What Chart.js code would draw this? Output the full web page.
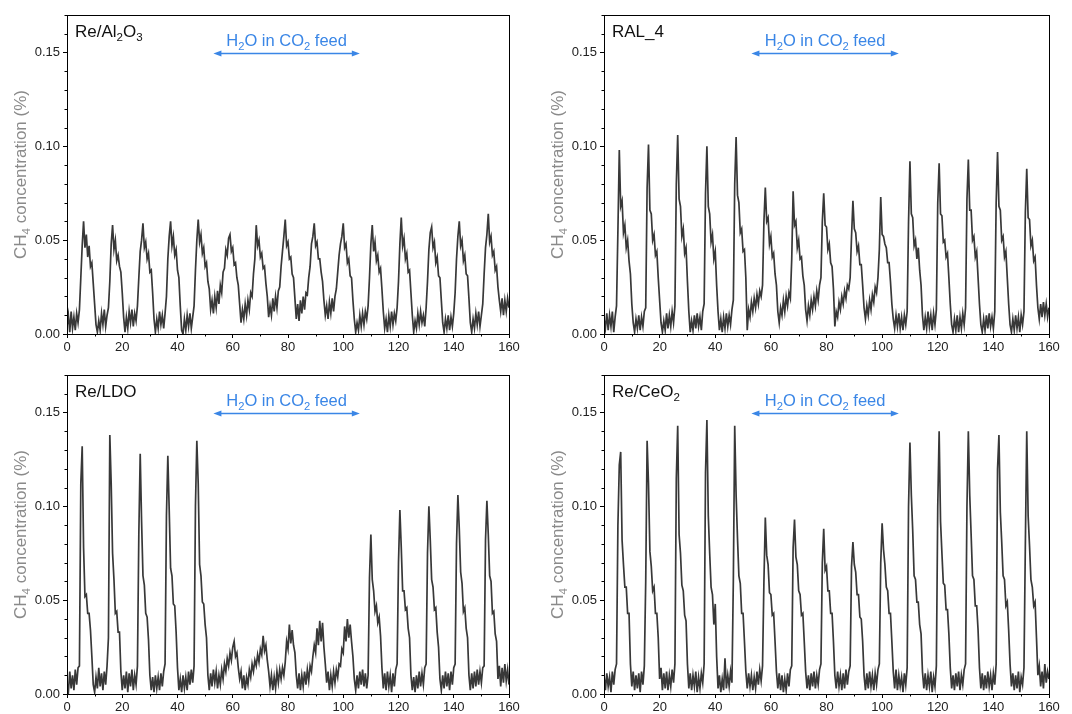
<!DOCTYPE html>
<html><head><meta charset="utf-8">
<script src="https://cdn.jsdelivr.net/npm/chart.js@4.4.1/dist/chart.umd.min.js"></script>
<style>
html,body{margin:0;padding:0;background:#fff;overflow:hidden;width:1072px;height:714px;}
canvas{position:absolute;}
</style></head><body>
<canvas id="c1" width="536" height="357" style="left:0;top:0"></canvas>
<canvas id="c2" width="536" height="357" style="left:536px;top:0"></canvas>
<canvas id="c3" width="536" height="354" style="left:0;top:360px"></canvas>
<canvas id="c4" width="536" height="354" style="left:536px;top:360px"></canvas>
<script>
// time axis: samples every 0.5 min from 0 to 160
const timeStep = 0.5;
const xTicks = [0,20,40,60,80,100,120,140,160];
const yTicks = [0.00,0.05,0.10,0.15];
const panelNames = [
  [['Re/Al',0],['2',1],['O',0],['3',1]],
  [['RAL_4',0]],
  [['Re/LDO',0]],
  [['Re/CeO',0],['2',1]]
];
const feedLabel = [['H',0],['2',1],['O in CO',0],['2',1],[' feed',0]];
const feedRange = [53, 106];
const yTitle = [['CH',0],['4',1],[' concentration (%)',0]];

// CH4 concentration (%), one value per 0.5 min
const reAl2O3 = [
.004,.010,.001,.012,.003,.009,.002,.011,.006,.013,
.030,.047,.060,.046,.053,.041,.047,.036,.038,.027,
.016,.005,.001,.007,.002,.011,.005,.013,.004,.010,
.014,.028,.048,.058,.045,.050,.039,.042,.036,.033,
.022,.009,.001,.009,.003,.012,.006,.013,.004,.011,
.007,.015,.030,.044,.050,.059,.046,.049,.040,.043,
.033,.034,.022,.008,.001,.008,.003,.012,.005,.010,
.003,.011,.020,.040,.052,.060,.047,.052,.042,.045,
.034,.030,.015,.002,.000,.008,.002,.010,.004,.011,
.003,.009,.015,.034,.050,.061,.049,.053,.043,.046,
.036,.038,.028,.024,.013,.018,.011,.020,.014,.023,
.016,.026,.022,.033,.035,.045,.042,.051,.053,.044,
.046,.037,.038,.030,.026,.016,.006,.013,.008,.016,
.010,.018,.013,.022,.020,.032,.040,.058,.047,.050,
.041,.043,.035,.036,.027,.020,.009,.015,.010,.019,
.012,.020,.014,.023,.025,.036,.044,.052,.061,.047,
.049,.040,.041,.032,.030,.019,.008,.016,.007,.018,
.011,.020,.013,.022,.021,.030,.036,.048,.052,.059,
.047,.049,.040,.040,.033,.028,.018,.010,.015,.008,
.017,.011,.019,.012,.020,.024,.033,.042,.048,.052,
.059,.046,.048,.038,.040,.031,.030,.018,.008,.001,
.006,.002,.010,.004,.011,.005,.012,.008,.015,.030,
.048,.058,.044,.049,.039,.042,.033,.035,.024,.012,
.003,.008,.001,.010,.004,.012,.005,.011,.007,.014,
.028,.048,.062,.047,.051,.040,.043,.033,.034,.022,
.010,.001,.007,.003,.011,.005,.012,.006,.010,.004,
.014,.028,.045,.054,.057,.046,.049,.038,.041,.031,
.030,.018,.006,.001,.008,.003,.010,.002,.009,.004,
.011,.022,.040,.052,.060,.047,.050,.039,.042,.032,
.031,.019,.006,.001,.008,.003,.011,.005,.012,.004,
.010,.016,.032,.046,.053,.064,.049,.052,.042,.044,
.034,.036,.025,.018,.012,.019,.010,.018,.012,.019,
.014];
const ral4 = [
.008,.003,.011,.002,.010,.004,.012,.001,.009,.015,
.055,.098,.068,.071,.054,.058,.046,.050,.039,.032,
.016,.006,.001,.008,.003,.010,.002,.009,.004,.012,
.014,.078,.101,.066,.064,.050,.053,.042,.044,.030,
.018,.006,.001,.007,.002,.011,.003,.010,.004,.012,
.006,.015,.080,.106,.072,.068,.052,.056,.043,.046,
.028,.012,.001,.007,.002,.010,.003,.011,.004,.009,
.002,.012,.016,.075,.100,.068,.064,.049,.053,.040,
.044,.026,.012,.002,.008,.001,.009,.003,.011,.004,
.010,.005,.013,.018,.080,.105,.074,.070,.054,.056,
.044,.045,.030,.002,.013,.009,.017,.012,.019,.014,
.021,.016,.023,.020,.026,.060,.078,.060,.062,.048,
.052,.041,.043,.032,.026,.012,.006,.014,.010,.018,
.012,.020,.015,.022,.019,.040,.076,.058,.060,.046,
.050,.040,.041,.031,.026,.013,.007,.015,.010,.018,
.013,.020,.015,.023,.018,.026,.030,.060,.075,.058,
.057,.045,.048,.038,.036,.024,.004,.012,.009,.017,
.013,.020,.016,.023,.019,.026,.024,.030,.052,.071,
.056,.054,.044,.047,.037,.037,.026,.014,.008,.015,
.010,.018,.013,.021,.017,.025,.022,.030,.045,.073,
.053,.052,.048,.046,.038,.038,.028,.016,.008,.003,
.010,.004,.011,.003,.009,.002,.010,.005,.012,.060,
.092,.064,.062,.047,.050,.040,.046,.034,.026,.010,
.002,.009,.003,.012,.004,.010,.002,.011,.005,.013,
.070,.091,.064,.063,.049,.050,.041,.043,.030,.016,
.005,.001,.008,.002,.010,.001,.009,.003,.011,.005,
.014,.072,.093,.066,.066,.050,.052,.041,.044,.030,
.016,.005,.001,.008,.002,.010,.003,.011,.004,.009,
.003,.012,.070,.097,.068,.066,.050,.052,.041,.044,
.030,.016,.005,.001,.008,.002,.010,.003,.009,.001,
.010,.005,.012,.065,.088,.062,.061,.047,.050,.039,
.041,.026,.014,.008,.016,.009,.017,.010,.016,.009,
.014];
const reLDO = [
.006,.001,.012,.003,.010,.002,.013,.005,.014,.015,
.112,.132,.078,.052,.053,.043,.043,.034,.020,.005,
.001,.009,.003,.014,.004,.011,.002,.012,.005,.015,
.030,.138,.112,.075,.061,.043,.044,.033,.033,.012,
.002,.010,.003,.012,.001,.011,.004,.013,.002,.010,
.005,.015,.085,.128,.092,.063,.058,.043,.041,.029,
.010,.002,.009,.001,.010,.003,.009,.002,.011,.004,
.012,.016,.095,.127,.098,.067,.063,.048,.047,.033,
.014,.002,.008,.001,.010,.003,.009,.002,.012,.005,
.013,.006,.015,.100,.135,.112,.069,.063,.049,.048,
.037,.030,.010,.002,.011,.004,.013,.006,.012,.003,
.010,.005,.013,.008,.016,.012,.019,.015,.022,.018,
.025,.028,.020,.022,.014,.008,.012,.003,.010,.002,
.009,.005,.013,.009,.016,.012,.018,.015,.021,.017,
.024,.021,.031,.023,.026,.018,.012,.004,.010,.002,
.009,.003,.012,.006,.013,.008,.014,.010,.017,.028,
.024,.037,.027,.034,.026,.022,.010,.003,.011,.002,
.010,.004,.012,.005,.013,.007,.015,.012,.020,.026,
.022,.035,.026,.039,.028,.038,.025,.016,.006,.012,
.002,.010,.004,.012,.006,.013,.009,.016,.015,.024,
.022,.036,.028,.040,.030,.037,.028,.020,.008,.002,
.010,.003,.012,.005,.013,.004,.011,.003,.010,.062,
.085,.061,.055,.044,.047,.038,.041,.031,.014,.003,
.011,.002,.012,.004,.010,.001,.011,.004,.013,.016,
.070,.098,.078,.055,.055,.045,.046,.035,.030,.010,
.002,.009,.001,.010,.003,.012,.004,.011,.005,.014,
.016,.075,.100,.082,.061,.057,.045,.046,.033,.025,
.008,.002,.010,.003,.012,.004,.011,.002,.012,.005,
.014,.016,.080,.106,.088,.065,.059,.044,.046,.035,
.030,.010,.002,.011,.003,.012,.004,.013,.005,.012,
.006,.014,.015,.082,.103,.085,.063,.060,.043,.044,
.032,.028,.008,.015,.004,.014,.006,.016,.007,.013,
.005];
const reCeO2 = [
.010,.002,.011,.004,.009,.001,.012,.005,.013,.016,
.090,.122,.129,.082,.069,.057,.057,.043,.043,.016,
.004,.012,.002,.010,.003,.011,.001,.012,.005,.015,
.060,.135,.112,.076,.068,.055,.057,.043,.043,.030,
.008,.014,.002,.011,.003,.012,.002,.010,.004,.013,
.006,.016,.115,.143,.085,.075,.058,.055,.042,.039,
.016,.003,.011,.002,.010,.004,.012,.001,.009,.003,
.011,.006,.016,.118,.146,.095,.075,.057,.053,.037,
.048,.020,.003,.010,.001,.008,.002,.019,.003,.010,
.004,.012,.006,.060,.143,.106,.083,.063,.059,.043,
.043,.028,.012,.003,.011,.004,.010,.002,.009,.003,
.012,.005,.013,.007,.015,.060,.094,.074,.069,.054,
.053,.042,.043,.028,.012,.003,.011,.002,.010,.001,
.008,.002,.011,.004,.013,.015,.078,.093,.073,.069,
.055,.053,.042,.043,.028,.012,.003,.010,.002,.011,
.004,.012,.003,.010,.005,.013,.016,.070,.088,.066,
.068,.055,.055,.043,.043,.028,.010,.003,.012,.004,
.010,.002,.011,.003,.013,.005,.012,.015,.068,.081,
.069,.065,.053,.053,.041,.040,.028,.010,.002,.011,
.003,.012,.004,.010,.002,.011,.005,.013,.016,.070,
.091,.077,.069,.057,.055,.043,.043,.028,.012,.003,
.013,.002,.010,.004,.009,.001,.011,.005,.014,.100,
.134,.106,.087,.063,.061,.049,.049,.037,.032,.012,
.003,.011,.002,.010,.004,.012,.001,.009,.004,.015,
.100,.140,.092,.075,.059,.058,.045,.045,.032,.014,
.003,.010,.002,.011,.004,.012,.002,.010,.005,.013,
.016,.100,.140,.106,.085,.063,.061,.047,.047,.034,
.014,.003,.011,.002,.010,.003,.012,.004,.010,.002,
.011,.005,.016,.120,.138,.097,.081,.063,.061,.047,
.049,.034,.016,.004,.011,.002,.010,.003,.012,.001,
.009,.005,.014,.080,.140,.095,.079,.061,.057,.047,
.049,.030,.010,.015,.004,.012,.003,.016,.006,.012,
.008];

const FONT = '"Liberation Sans", Arial, sans-serif';

function richWidth(ctx, parts, size){
  let w = 0;
  for (const [t, sub] of parts){
    ctx.font = (sub ? size*0.68 : size) + 'px ' + FONT;
    w += ctx.measureText(t).width;
  }
  return w;
}
function drawRich(ctx, parts, x, y, size, align){
  let w = richWidth(ctx, parts, size);
  let cx = align === 'center' ? x - w/2 : x;
  ctx.textAlign = 'left';
  ctx.textBaseline = 'alphabetic';
  for (const [t, sub] of parts){
    ctx.font = (sub ? size*0.68 : size) + 'px ' + FONT;
    ctx.fillText(t, cx, sub ? y + size*0.22 : y);
    cx += ctx.measureText(t).width;
  }
}

const decor = {
  id: 'decor',
  afterDatasetsDraw(chart, args, opts){
    const ctx = chart.ctx;
    const a = chart.chartArea;
    const xs = chart.scales.x, ys = chart.scales.y;
    ctx.save();
    // frame
    ctx.strokeStyle = '#000';
    ctx.lineWidth = 1;
    ctx.strokeRect(Math.round(a.left)+0.5, Math.round(a.top)+0.5, Math.round(a.right-a.left), Math.round(a.bottom-a.top));
    // minor ticks
    ctx.beginPath();
    for (let v = 10; v < 160; v += 20){
      const px = Math.round(xs.getPixelForValue(v)) + 0.5;
      ctx.moveTo(px, a.bottom); ctx.lineTo(px, a.bottom + 2.5);
    }
    for (let k = 1; k <= 17; k++){
      if (k % 5 === 0) continue;
      const py = Math.round(ys.getPixelForValue(k/100)) + 0.5;
      ctx.moveTo(a.left, py); ctx.lineTo(a.left - 2.5, py);
    }
    ctx.stroke();
    // panel name
    ctx.fillStyle = '#111';
    drawRich(ctx, opts.name, a.left + 8, a.top + 22, 17, 'left');
    // feed annotation
    ctx.fillStyle = '#3a86e6';
    drawRich(ctx, feedLabel, xs.getPixelForValue((feedRange[0]+feedRange[1])/2), a.top + 31, 16.5, 'center');
    const x1 = xs.getPixelForValue(feedRange[0]), x2 = xs.getPixelForValue(feedRange[1]);
    const yy = Math.round(ys.getPixelForValue(0.1495)) + 0.5;
    ctx.strokeStyle = '#3a86e6'; ctx.lineWidth = 1.4;
    ctx.beginPath(); ctx.moveTo(x1 + 4, yy); ctx.lineTo(x2 - 4, yy); ctx.stroke();
    ctx.beginPath();
    ctx.moveTo(x1, yy); ctx.lineTo(x1 + 8, yy - 3); ctx.lineTo(x1 + 8, yy + 3); ctx.closePath();
    ctx.moveTo(x2, yy); ctx.lineTo(x2 - 8, yy - 3); ctx.lineTo(x2 - 8, yy + 3); ctx.closePath();
    ctx.fill();
    // y title
    ctx.fillStyle = '#8a8a8a';
    ctx.translate(a.left - 41, (a.top + a.bottom)/2);
    ctx.rotate(-Math.PI/2);
    drawRich(ctx, yTitle, 0, 0, 17, 'center');
    ctx.restore();
  }
};

function makeChart(id, values, name, yAxisW, padRight, padTop, xAxisH){
  const pts = values.map((v, i) => ({x: i*timeStep, y: v}));
  return new Chart(document.getElementById(id), {
    type: 'line',
    data: { datasets: [{ data: pts, borderColor: '#383838', borderWidth: 1.7, pointRadius: 0, tension: 0, fill: false, borderJoinStyle: 'miter' }] },
    options: {
      responsive: false, animation: false, devicePixelRatio: 1,
      parsing: false, normalized: true,
      layout: { padding: { left: 0, right: padRight, top: padTop, bottom: 0 } },
      plugins: { legend: { display: false }, tooltip: { enabled: false }, decor: { name: name } },
      scales: {
        x: {
          type: 'linear', min: 0, max: 160,
          afterBuildTicks: s => { s.ticks = xTicks.map(v => ({value: v})); },
          afterFit: s => { s.height = xAxisH; },
          ticks: { color: '#222', font: { family: FONT, size: 13 }, padding: 2, maxRotation: 0, autoSkip: false, callback: v => String(v) },
          grid: { display: true, drawOnChartArea: false, drawTicks: true, tickLength: 4, color: '#000' },
          border: { display: true, color: '#000' }
        },
        y: {
          type: 'linear', min: 0, max: 0.17,
          afterBuildTicks: s => { s.ticks = yTicks.map(v => ({value: v})); },
          afterFit: s => { s.width = yAxisW; },
          ticks: { color: '#222', font: { family: FONT, size: 13 }, padding: 3, autoSkip: false, callback: v => v.toFixed(2) },
          grid: { display: true, drawOnChartArea: false, drawTicks: true, tickLength: 4, color: '#000' },
          border: { display: true, color: '#000' }
        }
      }
    },
    plugins: [decor]
  });
}

makeChart('c1', reAl2O3, panelNames[0], 67, 27, 15, 23);
makeChart('c2', ral4, panelNames[1], 68, 23, 15, 23);
makeChart('c3', reLDO, panelNames[2], 67, 27, 15, 20);
makeChart('c4', reCeO2, panelNames[3], 68, 23, 15, 20);
</script>
</body></html>
